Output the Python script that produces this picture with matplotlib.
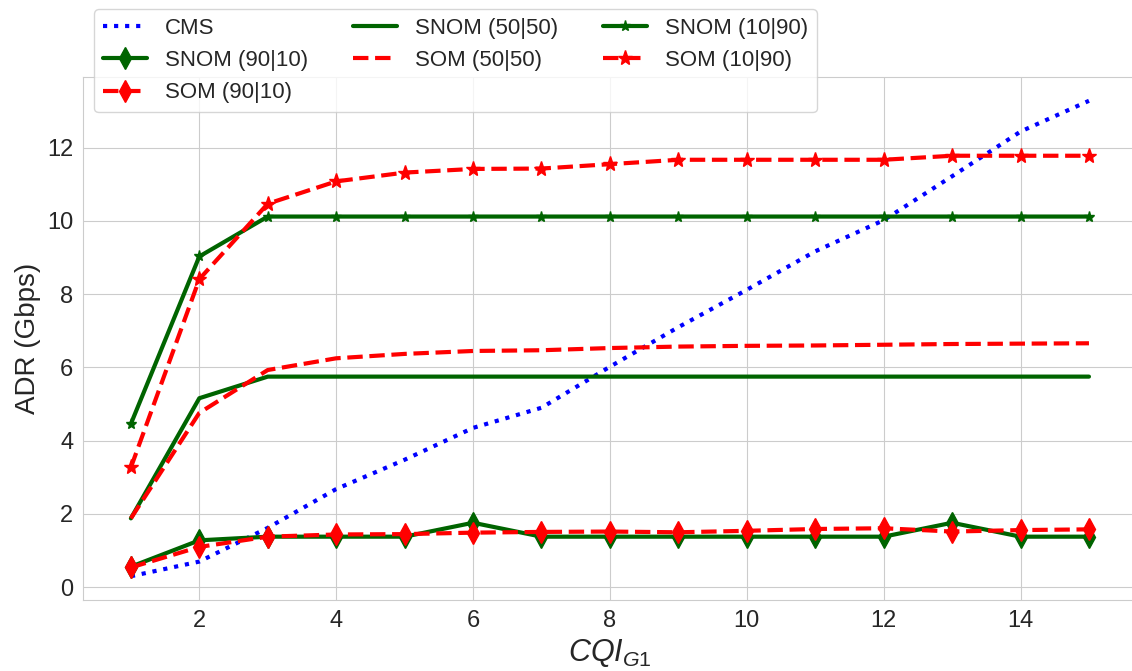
import matplotlib.pyplot as plt
import seaborn as sns

sns.set_style('whitegrid')
plt.rcParams['font.family'] = ['Liberation Sans', 'DejaVu Sans']
plt.rcParams['mathtext.fontset'] = 'custom'
plt.rcParams['mathtext.it'] = 'Liberation Sans:italic'
plt.rcParams['mathtext.rm'] = 'Liberation Sans'

# CQI del grupo 1
cqi = [1, 2, 3, 4, 5, 6, 7, 8, 9, 10, 11, 12, 13, 14, 15]

# ADR (Gbps) por esquema
cms = [0.30, 0.70, 1.62, 2.68, 3.48, 4.35, 4.90, 6.02, 7.10, 8.12, 9.17, 10.02, 11.22, 12.44, 13.28]
snom_90_10 = [0.56, 1.28, 1.38, 1.38, 1.38, 1.76, 1.38, 1.38, 1.38, 1.38, 1.38, 1.38, 1.76, 1.38, 1.38]
som_90_10 = [0.54, 1.10, 1.38, 1.44, 1.45, 1.49, 1.51, 1.52, 1.50, 1.54, 1.59, 1.61, 1.52, 1.56, 1.58]
snom_50_50 = [1.88, 5.16, 5.75, 5.75, 5.75, 5.75, 5.75, 5.75, 5.75, 5.75, 5.75, 5.75, 5.75, 5.75, 5.75]
som_50_50 = [1.88, 4.76, 5.93, 6.25, 6.37, 6.45, 6.47, 6.53, 6.57, 6.59, 6.60, 6.62, 6.64, 6.65, 6.66]
snom_10_90 = [4.46, 9.03, 10.12, 10.12, 10.12, 10.12, 10.12, 10.12, 10.12, 10.12, 10.12, 10.12, 10.12, 10.12, 10.12]
som_10_90 = [3.27, 8.41, 10.47, 11.08, 11.32, 11.42, 11.43, 11.55, 11.67, 11.67, 11.67, 11.67, 11.78, 11.78, 11.78]

fig = plt.figure(figsize=(11.32, 6.71), dpi=100)
ax = fig.add_axes([0.0733, 0.1058, 0.931, 0.7794])

ax.plot(cqi, cms, ':', color='blue', linewidth=3, label='CMS')
ax.plot(cqi, snom_90_10, '-', color='darkgreen', linewidth=3, marker='d', markersize=11, label='SNOM (90|10)')
ax.plot(cqi, som_90_10, '--', color='red', linewidth=3, marker='d', markersize=11, label='SOM (90|10)')
ax.plot(cqi, snom_50_50, '-', color='darkgreen', linewidth=3, label='SNOM (50|50)')
ax.plot(cqi, som_50_50, '--', color='red', linewidth=3, label='SOM (50|50)')
ax.plot(cqi, snom_10_90, '-', color='darkgreen', linewidth=3, marker='*', markersize=8, label='SNOM (10|90)')
ax.plot(cqi, som_10_90, '--', color='red', linewidth=3, marker='*', markersize=11, label='SOM (10|90)')

ax.set_xticks([2, 4, 6, 8, 10, 12, 14])
ax.set_yticks([0, 2, 4, 6, 8, 10, 12])
ax.tick_params(labelsize=17)
ax.set_xlabel('$CQI_{G1}$', fontsize=22)
ax.set_ylabel('ADR (Gbps)', fontsize=20)

ax.legend(ncol=3, loc='upper left', bbox_to_anchor=(0, 1.151), fontsize=16)

fig.savefig('out.png', dpi=100)
